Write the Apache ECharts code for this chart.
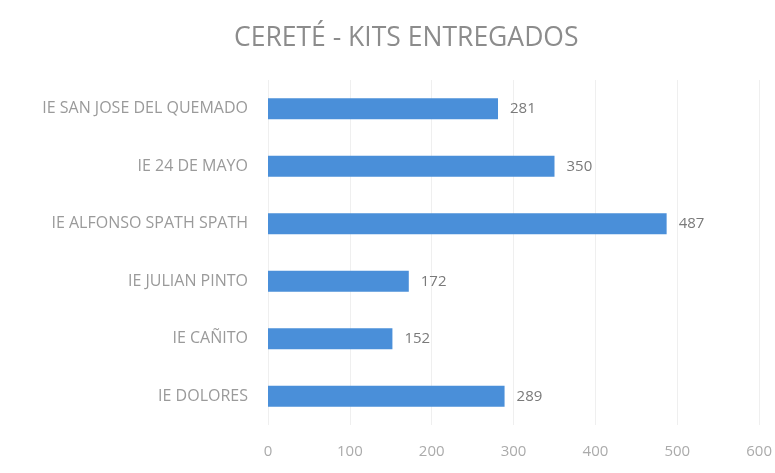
<!DOCTYPE html>
<html>
<head>
<meta charset="utf-8">
<script src="https://cdn.jsdelivr.net/npm/echarts@6/dist/echarts.min.js"></script>
<style>
html,body{margin:0;padding:0;background:#fff}
#Charts{width:775px;height:473px}
</style>
</head>
<body>
<div id="Charts"></div>
<script>
// escuelas (de arriba a abajo)
let escuelas = ['IE SAN JOSE DEL QUEMADO', 'IE 24 DE MAYO', 'IE ALFONSO SPATH SPATH', 'IE JULIAN PINTO', 'IE CAÑITO', 'IE DOLORES']
let kits = [281, 350, 487, 172, 152, 289]
let ejeX = [0, 100, 200, 300, 400, 500, 600]

var chart = echarts.init(document.getElementById("Charts"));

var option = {
	backgroundColor: '#FFFFFF',
	title: {
		text: 'CERETÉ - KITS ENTREGADOS',
		left: 229,
		top: 20,
		textStyle: {
			fontFamily: 'Open Sans',
			fontSize: 26.5,
			fontWeight: 'normal',
			color: '#8c8c8c'
		}
	},
	grid: {
		left: 268,
		right: 13,
		top: 80,
		bottom: 48
	},
	xAxis: {
		type: 'value',
		min: ejeX[0],
		max: ejeX[ejeX.length - 1],
		interval: 100,
		axisLine: { show: false },
		axisTick: { show: false },
		axisLabel: {
			color: '#ababab',
			fontFamily: 'Open Sans',
			fontSize: 15,
			margin: 19
		},
		splitLine: {
			show: true,
			lineStyle: { color: '#efefef', width: 1 }
		}
	},
	yAxis: {
		type: 'category',
		data: escuelas,
		inverse: true,
		axisLine: { show: false },
		axisTick: { show: false },
		axisLabel: {
			color: '#9a9a9a',
			fontFamily: 'Open Sans',
			fontSize: 16,
			margin: 20
		}
	},
	series: [{
		type: 'bar',
		data: kits,
		barWidth: 21,
		itemStyle: { color: '#4a8fd9' },
		label: {
			show: true,
			position: 'right',
			distance: 12,
			color: '#7a7a7a',
			fontFamily: 'Open Sans',
			fontSize: 15
		}
	}]
};
chart.setOption(option);
</script>
</body>
</html>
